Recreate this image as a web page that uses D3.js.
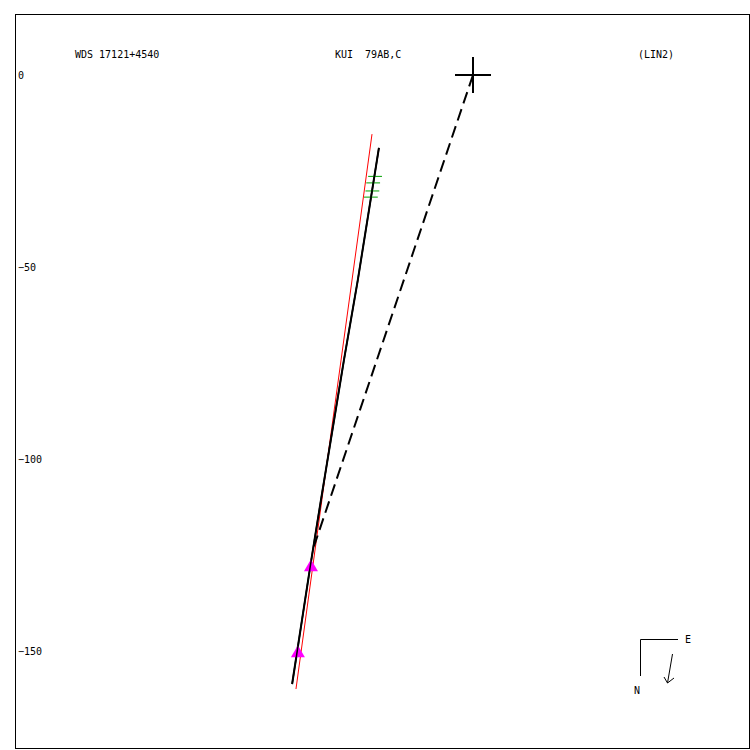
<!DOCTYPE html>
<meta charset="utf-8">
<html>
<head>
  <script src="https://cdn.jsdelivr.net/npm/d3@7"></script>
  <style>
    body { margin: 0; background: #fff; }
    text { font-family: "DejaVu Sans Mono", monospace; font-size: 10px; fill: #000; white-space: pre; }
  </style>
</head>
<body>
  <svg id="svg" width="750" height="750"></svg>
  <script>
    // header texts
    var titles = ["WDS 17121+4540", "KUI  79AB,C", "(LIN2)"];

    // y tick labels (same scale on both axes)
    var yTicks = [0, -50, -100, -150];

    // orbit (black)
    var orbitX = [-24.5, -30.0, -33.6, -39.6, -42.4, -47.1];
    var orbitY = [-19.0, -53.4, -74.2, -110.7, -128.1, -158.6];

    // red line
    var redX = [-26.3, -46.1];
    var redY = [-15.4, -159.9];

    // dashed line from primary
    var dashX = [0, -41.4];
    var dashY = [0, -122.7];

    // magenta triangles
    var triX = [-42.2, -45.6];
    var triY = [-127.9, -150.3];

    // green tick marks
    var tickX = [-25.5, -26.0, -26.2, -26.6];
    var tickY = [-26.4, -28.1, -30.2, -31.8];

    var svg = d3.select("#svg");

    // 3.84 px per unit on both axes
    var x = d3.scaleLinear().domain([0, 50]).range([473, 665]);
    var y = d3.scaleLinear().domain([0, -50]).range([75, 267]);

    // frame
    svg.append("rect")
      .attr("x", 15.5).attr("y", 14.5)
      .attr("width", 734).attr("height", 734)
      .attr("fill", "none").attr("stroke", "#000").attr("stroke-width", 1);

    // titles
    var titleX = [75, 335, 638];
    svg.selectAll(".title")
      .data(titles)
      .enter().append("text")
      .attr("class", "title")
      .attr("xml:space", "preserve")
      .attr("x", function (d, i) { return titleX[i]; })
      .attr("y", 58)
      .text(function (d) { return d; });

    // y axis labels
    var axis = d3.axisRight(y).tickValues(yTicks).tickSize(0).tickPadding(3);
    var ag = svg.append("g").attr("transform", "translate(15,0)").call(axis);
    ag.select(".domain").remove();
    ag.selectAll("text")
      .attr("font-family", "DejaVu Sans Mono")
      .attr("font-size", 10)
      .attr("fill", "#000");

    var line = d3.line()
      .x(function (d) { return x(d[0]); })
      .y(function (d) { return y(d[1]); });

    // red line
    svg.append("path")
      .datum(d3.zip(redX, redY))
      .attr("d", line)
      .attr("fill", "none").attr("stroke", "#ff0000").attr("stroke-width", 1);

    // dashed line
    svg.append("path")
      .datum(d3.zip(dashX, dashY))
      .attr("d", line)
      .attr("fill", "none").attr("stroke", "#000").attr("stroke-width", 2)
      .attr("stroke-dasharray", "12,6");

    // orbit
    svg.append("path")
      .datum(d3.zip(orbitX, orbitY))
      .attr("d", line)
      .attr("fill", "none").attr("stroke", "#000").attr("stroke-width", 2);

    // green ticks
    svg.selectAll(".gtick")
      .data(d3.zip(tickX, tickY))
      .enter().append("line")
      .attr("class", "gtick")
      .attr("x1", function (d) { return x(d[0] - 1.8); })
      .attr("x2", function (d) { return x(d[0] + 1.8); })
      .attr("y1", function (d) { return y(d[1]); })
      .attr("y2", function (d) { return y(d[1]); })
      .attr("stroke", "#00a000").attr("stroke-width", 1);

    // triangles
    svg.selectAll(".tri")
      .data(d3.zip(triX, triY))
      .enter().append("path")
      .attr("class", "tri")
      .attr("transform", function (d) { return "translate(" + x(d[0]) + "," + y(d[1]) + ")"; })
      .attr("d", "M0,-7 L7,5 L-7,5 Z")
      .attr("fill", "#ff00ff");

    // redraw orbit over the triangles like the original
    svg.append("path")
      .datum(d3.zip(orbitX, orbitY))
      .attr("d", line)
      .attr("fill", "none").attr("stroke", "#000").attr("stroke-width", 1.5);

    // big cross at primary
    svg.append("line")
      .attr("x1", x(0) - 18).attr("x2", x(0) + 18)
      .attr("y1", y(0)).attr("y2", y(0))
      .attr("stroke", "#000").attr("stroke-width", 2);
    svg.append("line")
      .attr("x1", x(0)).attr("x2", x(0))
      .attr("y1", y(0) - 18).attr("y2", y(0) + 18)
      .attr("stroke", "#000").attr("stroke-width", 2);

    // compass
    var comp = svg.append("g").attr("transform", "translate(640,639)");
    comp.append("path")
      .attr("d", "M38,0.5 H0.5 V37")
      .attr("fill", "none").attr("stroke", "#000").attr("stroke-width", 1);
    comp.append("text").attr("x", 45).attr("y", 3.5).text("E");
    comp.append("text").attr("x", -6).attr("y", 55).text("N");
    comp.append("path")
      .attr("d", "M32.5,15 L27.5,44 M24,38 L27.5,44 L34,39")
      .attr("fill", "none").attr("stroke", "#000").attr("stroke-width", 1);
  </script>
</body>
</html>
